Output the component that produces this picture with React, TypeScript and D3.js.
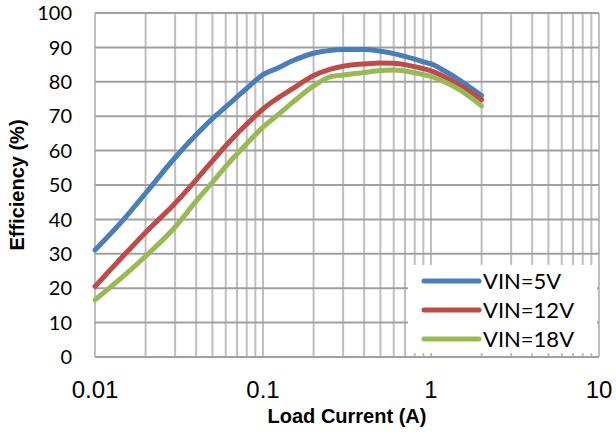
import { useEffect, useRef } from "react";
import * as d3 from "d3";

const current = [0.01, 0.015, 0.02, 0.03, 0.04, 0.05, 0.06, 0.07, 0.08, 0.09, 0.1, 0.12, 0.15, 0.2, 0.25, 0.3, 0.4, 0.5, 0.6, 0.7, 0.8, 0.9, 1, 1.2, 1.5, 2];
const eff5V = [31.1, 40.3, 47.6, 58, 64.6, 69.3, 72.7, 75.6, 78.1, 80.3, 82.1, 83.8, 86.1, 88.3, 89.1, 89.4, 89.4, 88.9, 88.2, 87.4, 86.6, 85.8, 85.2, 83.2, 80.3, 76];
const eff12V = [20.5, 29.8, 36.2, 44.7, 51.5, 57, 61.4, 64.9, 67.7, 70.1, 72.1, 75, 78, 81.8, 83.6, 84.5, 85.2, 85.5, 85.4, 85, 84.4, 83.8, 83.2, 81.5, 78.8, 74.8];
const eff18V = [16.6, 23.8, 29.3, 37.8, 45.3, 50.8, 55.4, 59, 62, 64.6, 66.8, 70, 74, 78.8, 81.4, 82, 82.7, 83.3, 83.4, 83.1, 82.6, 82.1, 81.6, 80, 77.5, 73];

const seriesNames = ["VIN=5V", "VIN=12V", "VIN=18V"];
const seriesColors = ["#4a7ebb", "#be4b48", "#98b954"];
const xTicks = [0.01, 0.1, 1, 10];
const yTicks = [0, 10, 20, 30, 40, 50, 60, 70, 80, 90, 100];

const App = () => {
  const svgRef = useRef(null);
  const width = 616;
  const height = 434;
  const margin = { top: 13, right: 17, bottom: 77, left: 95 };

  useEffect(() => {
    const svg = d3.select(svgRef.current);
    svg.selectAll("*").remove();

    const x = d3.scaleLog().domain([0.01, 10]).range([margin.left, width - margin.right]);
    const y = d3.scaleLinear().domain([0, 100]).range([height - margin.bottom, margin.top]);

    // minor + major vertical grid
    const vLines: number[] = [];
    [0.01, 0.1, 1].forEach((d) => {
      for (let k = 1; k < 10; k++) vLines.push(d * k);
    });
    vLines.push(10);

    svg
      .append("g")
      .selectAll("line")
      .data(vLines)
      .enter()
      .append("line")
      .attr("x1", (d) => x(d))
      .attr("x2", (d) => x(d))
      .attr("y1", y(100))
      .attr("y2", y(0))
      .attr("stroke", "#bfbfbf")
      .attr("stroke-width", 2);

    svg
      .append("g")
      .selectAll("line")
      .data(yTicks)
      .enter()
      .append("line")
      .attr("x1", x(0.01))
      .attr("x2", x(10))
      .attr("y1", (d) => y(d))
      .attr("y2", (d) => y(d))
      .attr("stroke", "#a0a0a0")
      .attr("stroke-width", 2);

    // y tick labels
    svg
      .append("g")
      .selectAll("text")
      .data(yTicks)
      .enter()
      .append("text")
      .attr("x", margin.left - 23)
      .attr("y", (d) => y(d))
      .attr("dy", "0.36em")
      .attr("text-anchor", "end")
      .attr("font-family", "Lato")
      .attr("font-size", "20px")
      .attr("fill", "#000")
      .text((d) => d);

    // x tick labels
    svg
      .append("g")
      .selectAll("text")
      .data(xTicks)
      .enter()
      .append("text")
      .attr("x", (d) => x(d))
      .attr("y", 389)
      .attr("dy", "0.36em")
      .attr("text-anchor", "middle")
      .attr("font-family", "Liberation Sans, Arial")
      .attr("font-size", "24px")
      .attr("fill", "#000")
      .text((d) => d);

    // axis titles
    svg
      .append("text")
      .attr("x", (x(0.01) + x(10)) / 2)
      .attr("y", 416)
      .attr("dy", "0.36em")
      .attr("text-anchor", "middle")
      .attr("font-family", "Liberation Sans, Arial")
      .attr("font-weight", "bold")
      .attr("font-size", "20px")
      .text("Load Current (A)");

    svg
      .append("text")
      .attr("transform", `translate(17,${(y(0) + y(100)) / 2}) rotate(-90)`)
      .attr("dy", "0.36em")
      .attr("text-anchor", "middle")
      .attr("font-family", "Liberation Sans, Arial")
      .attr("font-weight", "bold")
      .attr("font-size", "20px")
      .text("Efficiency (%)");

    const line = d3
      .line<[number, number]>()
      .x((d) => x(d[0]))
      .y((d) => y(d[1]))
      .curve(d3.curveMonotoneX);

    const allSeries = [eff5V, eff12V, eff18V];
    allSeries.forEach((vals, i) => {
      svg
        .append("path")
        .datum(current.map((c, j) => [c, vals[j]] as [number, number]))
        .attr("d", line)
        .attr("fill", "none")
        .attr("stroke", seriesColors[i])
        .attr("stroke-width", 5)
        .attr("stroke-linecap", "round")
        .attr("stroke-linejoin", "round");
    });

    // legend
    const lg = svg.append("g");
    lg.append("rect")
      .attr("x", 408)
      .attr("y", 265)
      .attr("width", 189)
      .attr("height", 88)
      .attr("fill", "#fff");

    seriesNames.forEach((name, i) => {
      const ly = 281 + i * 29;
      lg.append("line")
        .attr("x1", 424)
        .attr("x2", 479)
        .attr("y1", ly)
        .attr("y2", ly)
        .attr("stroke", seriesColors[i])
        .attr("stroke-width", 5)
        .attr("stroke-linecap", "round");
      lg.append("text")
        .attr("x", 483)
        .attr("y", ly)
        .attr("dy", "0.36em")
        .attr("font-family", "Lato")
        .attr("font-size", "22px")
        .attr("fill", "#000")
        .text(name);
    });
  }, []);

  return (
    <svg
      ref={svgRef}
      width={width}
      height={height}
      style={{ position: "absolute", left: 0, top: 0, background: "#fff" }}
    />
  );
};

export default App;
